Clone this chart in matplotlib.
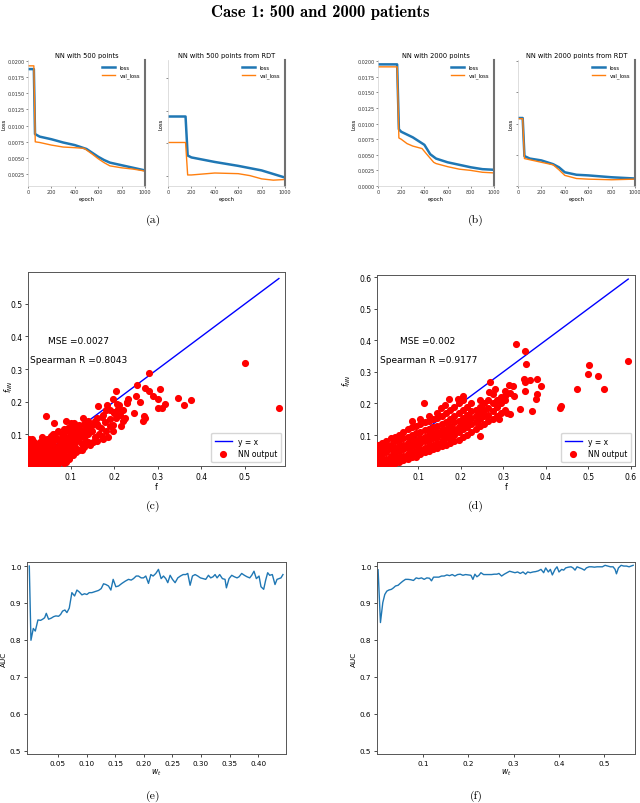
import numpy as np
import matplotlib
matplotlib.use('Agg')
import matplotlib.pyplot as plt
from matplotlib.ticker import FormatStrFormatter

# ---------------- loss histories ----------------
ep_loss_a1 = [0, 50, 60, 100, 200, 300, 400, 500, 550, 600, 650, 700, 800, 900, 1000]
loss_a1 = [0.0187, 0.0187, 0.0087, 0.0083, 0.0079, 0.0074, 0.0070, 0.0064, 0.0058, 0.0052, 0.0047, 0.0043, 0.0039, 0.0035, 0.0031]
ep_val_a1 = [0, 50, 62, 100, 200, 300, 400, 480, 550, 600, 650, 700, 800, 900, 1000]
val_a1 = [0.0192, 0.0192, 0.0075, 0.0074, 0.0070, 0.0067, 0.0066, 0.0065, 0.0056, 0.0049, 0.0043, 0.0038, 0.0035, 0.0033, 0.0030]

ep_loss_a2 = [0, 150, 168, 200, 400, 600, 800, 1000]
loss_a2 = [0.0141, 0.0141, 0.0081, 0.0078, 0.0071, 0.0065, 0.0058, 0.0047]
ep_val_a2 = [0, 150, 168, 200, 400, 600, 700, 800, 900, 1000]
val_a2 = [0.0101, 0.0101, 0.0051, 0.0051, 0.0054, 0.0053, 0.0050, 0.0045, 0.0043, 0.0044]

ep_loss_b1 = [0, 165, 180, 200, 300, 400, 450, 500, 600, 700, 800, 900, 1000]
loss_b1 = [0.0195, 0.0195, 0.0091, 0.0087, 0.0078, 0.0066, 0.0051, 0.0044, 0.0038, 0.0034, 0.0030, 0.0027, 0.0026]
ep_val_b1 = [0, 165, 180, 200, 250, 300, 380, 420, 480, 500, 600, 700, 800, 900, 1000]
val_b1 = [0.0191, 0.0191, 0.0077, 0.0075, 0.0068, 0.0064, 0.0060, 0.0051, 0.0038, 0.0036, 0.0031, 0.0027, 0.0025, 0.0022, 0.0021]

ep_loss_b2 = [0, 40, 55, 100, 200, 300, 350, 400, 500, 600, 800, 1000]
loss_b2 = [0.0109, 0.0109, 0.0048, 0.0044, 0.0041, 0.0035, 0.0030, 0.0022, 0.0018, 0.0017, 0.0014, 0.0012]
ep_val_b2 = [0, 40, 55, 200, 300, 350, 400, 500, 600, 800, 1000]
val_b2 = [0.0108, 0.0108, 0.0044, 0.0038, 0.0034, 0.0026, 0.0017, 0.0012, 0.0011, 0.0010, 0.0011]

# ---------------- NN output vs f ----------------
pts_500 = [
    (0.500, 0.318), (0.578, 0.181), (0.279, 0.288), (0.304, 0.238), (0.271, 0.242), (0.280, 0.233),
    (0.289, 0.217), (0.300, 0.207), (0.317, 0.191), (0.301, 0.181), (0.310, 0.181), (0.347, 0.210),
    (0.361, 0.189), (0.377, 0.206), (0.251, 0.217), (0.253, 0.250), (0.232, 0.207), (0.229, 0.196),
    (0.205, 0.231), (0.198, 0.207), (0.207, 0.191), (0.209, 0.178), (0.214, 0.160), (0.221, 0.139),
    (0.223, 0.145), (0.200, 0.167), (0.268, 0.155), (0.271, 0.150), (0.184, 0.188), (0.163, 0.186),
    (0.181, 0.173), (0.171, 0.153), (0.179, 0.136), (0.190, 0.145), (0.196, 0.129), (0.198, 0.108),
    (0.171, 0.093), (0.175, 0.084), (0.163, 0.124), (0.156, 0.139), (0.148, 0.129), (0.140, 0.124),
    (0.152, 0.077), (0.160, 0.080), (0.129, 0.150), (0.119, 0.129), (0.131, 0.113), (0.044, 0.157),
    (0.061, 0.134), (0.090, 0.139), (0.107, 0.134), (0.094, 0.119),
    (0.005, 0.085), (0.012, 0.085), (0.006, 0.060), (0.010, 0.045), (0.015, 0.055), (0.020, 0.040),
    (0.008, 0.030), (0.012, 0.020), (0.018, 0.025), (0.025, 0.030), (0.022, 0.012), (0.030, 0.020),
    (0.028, 0.050), (0.035, 0.040), (0.005, 0.012), (0.015, 0.008), (0.025, 0.065), (0.030, 0.075),
    (0.040, 0.060), (0.045, 0.030), (0.040, 0.015), (0.050, 0.020), (0.050, 0.045), (0.055, 0.070),
    (0.060, 0.050), (0.065, 0.035), (0.060, 0.012), (0.070, 0.025), (0.070, 0.060), (0.075, 0.080),
    (0.080, 0.045), (0.085, 0.065), (0.090, 0.085), (0.090, 0.030), (0.095, 0.050), (0.100, 0.070),
    (0.105, 0.090), (0.100, 0.100), (0.110, 0.060), (0.115, 0.080), (0.120, 0.100), (0.125, 0.070),
    (0.130, 0.090), (0.035, 0.090), (0.045, 0.085), (0.055, 0.095), (0.065, 0.100), (0.070, 0.110),
    (0.080, 0.100), (0.085, 0.115), (0.095, 0.120), (0.110, 0.125), (0.120, 0.120), (0.100, 0.135),
    (0.130, 0.130), (0.140, 0.100), (0.145, 0.120), (0.085, 0.010), (0.075, 0.015), (0.020, 0.070),
    (0.045, 0.075), (0.065, 0.085), (0.050, 0.055), (0.038, 0.025), (0.058, 0.030), (0.078, 0.035),
    (0.088, 0.055), (0.098, 0.040), (0.108, 0.075), (0.118, 0.050), (0.128, 0.110), (0.135, 0.080),
    (0.150, 0.110), (0.160, 0.130), (0.165, 0.100), (0.170, 0.120), (0.180, 0.110), (0.155, 0.090),
    (0.140, 0.140), (0.160, 0.150), (0.175, 0.160), (0.190, 0.175), (0.200, 0.165), (0.210, 0.190),
    (0.220, 0.175), (0.230, 0.200), (0.245, 0.165), (0.260, 0.200), (0.265, 0.140), (0.190, 0.125),
    (0.205, 0.150), (0.215, 0.125), (0.225, 0.150), (0.185, 0.090), (0.008, 0.005), (0.018, 0.004),
    (0.028, 0.006), (0.035, 0.005), (0.048, 0.008), (0.055, 0.004), (0.068, 0.006), (0.003, 0.035),
    (0.003, 0.020), (0.003, 0.070), (0.090, 0.015), (0.095, 0.025), (0.105, 0.035), (0.112, 0.045),
    (0.125, 0.050), (0.130, 0.060), (0.140, 0.075), (0.145, 0.065), (0.015, 0.035), (0.030, 0.035),
    (0.060, 0.075), (0.075, 0.055), (0.082, 0.075), (0.095, 0.090),
    (0.010, 0.070), (0.015, 0.075), (0.020, 0.055), (0.025, 0.045), (0.030, 0.060), (0.035, 0.065),
    (0.040, 0.045), (0.040, 0.080), (0.045, 0.050), (0.050, 0.065), (0.055, 0.040), (0.055, 0.085),
    (0.060, 0.065), (0.065, 0.050), (0.070, 0.045), (0.070, 0.085), (0.075, 0.070), (0.080, 0.060),
    (0.080, 0.085), (0.085, 0.045), (0.085, 0.095), (0.090, 0.070), (0.095, 0.065), (0.100, 0.055),
    (0.100, 0.085), (0.105, 0.070), (0.110, 0.095), (0.115, 0.110), (0.120, 0.085), (0.125, 0.100),
    (0.010, 0.015), (0.020, 0.020), (0.025, 0.008), (0.030, 0.010), (0.040, 0.030), (0.045, 0.020),
    (0.050, 0.030), (0.060, 0.025), (0.065, 0.015), (0.075, 0.030), (0.080, 0.020), (0.010, 0.060),
    (0.005, 0.045), (0.018, 0.048), (0.060, 0.100), (0.090, 0.110), (0.105, 0.110), (0.115, 0.095),
]

pts_2000 = [
    (0.329, 0.390), (0.352, 0.367), (0.354, 0.325), (0.594, 0.335), (0.502, 0.322), (0.500, 0.293),
    (0.524, 0.288), (0.536, 0.245), (0.474, 0.247), (0.437, 0.192), (0.433, 0.187), (0.390, 0.256),
    (0.380, 0.279), (0.380, 0.231), (0.377, 0.213), (0.368, 0.176), (0.340, 0.184), (0.350, 0.277),
    (0.352, 0.268), (0.363, 0.275), (0.351, 0.240), (0.313, 0.259), (0.322, 0.254), (0.317, 0.232),
    (0.325, 0.224), (0.305, 0.224), (0.310, 0.171), (0.317, 0.166), (0.289, 0.150), (0.281, 0.247),
    (0.269, 0.268), (0.267, 0.237), (0.245, 0.097), (0.114, 0.203), (0.154, 0.187), (0.172, 0.215),
    (0.162, 0.195), (0.206, 0.224), (0.194, 0.215),
    (0.005, 0.010), (0.005, 0.030), (0.005, 0.050), (0.005, 0.070),
    (0.015, 0.005), (0.015, 0.020), (0.015, 0.040), (0.015, 0.060), (0.015, 0.075),
    (0.025, 0.010), (0.025, 0.025), (0.025, 0.045), (0.025, 0.065), (0.025, 0.080),
    (0.035, 0.005), (0.035, 0.020), (0.035, 0.035), (0.035, 0.055), (0.035, 0.070), (0.035, 0.090),
    (0.045, 0.010), (0.045, 0.030), (0.045, 0.045), (0.045, 0.060), (0.045, 0.080), (0.045, 0.095),
    (0.055, 0.015), (0.055, 0.030), (0.055, 0.050), (0.055, 0.065), (0.055, 0.085), (0.055, 0.100),
    (0.065, 0.020), (0.065, 0.035), (0.065, 0.055), (0.065, 0.070), (0.065, 0.090), (0.065, 0.110),
    (0.075, 0.025), (0.075, 0.040), (0.075, 0.060), (0.075, 0.075), (0.075, 0.095), (0.075, 0.120),
    (0.085, 0.030), (0.085, 0.045), (0.085, 0.065), (0.085, 0.080), (0.085, 0.100), (0.085, 0.125), (0.085, 0.145),
    (0.095, 0.030), (0.095, 0.050), (0.095, 0.070), (0.095, 0.085), (0.095, 0.105), (0.095, 0.130),
    (0.105, 0.040), (0.105, 0.055), (0.105, 0.075), (0.105, 0.090), (0.105, 0.110), (0.105, 0.135), (0.105, 0.150),
    (0.115, 0.045), (0.115, 0.060), (0.115, 0.080), (0.115, 0.095), (0.115, 0.115), (0.115, 0.140),
    (0.125, 0.050), (0.125, 0.065), (0.125, 0.085), (0.125, 0.100), (0.125, 0.120), (0.125, 0.145), (0.125, 0.160),
    (0.135, 0.055), (0.135, 0.070), (0.135, 0.090), (0.135, 0.105), (0.135, 0.125), (0.135, 0.150),
    (0.145, 0.060), (0.145, 0.075), (0.145, 0.095), (0.145, 0.110), (0.145, 0.130), (0.145, 0.155), (0.145, 0.170),
    (0.155, 0.065), (0.155, 0.080), (0.155, 0.100), (0.155, 0.115), (0.155, 0.135), (0.155, 0.160),
    (0.165, 0.070), (0.165, 0.090), (0.165, 0.105), (0.165, 0.120), (0.165, 0.140), (0.165, 0.170),
    (0.175, 0.075), (0.175, 0.095), (0.175, 0.110), (0.175, 0.130), (0.175, 0.150), (0.175, 0.180),
    (0.185, 0.080), (0.185, 0.100), (0.185, 0.120), (0.185, 0.140), (0.185, 0.160), (0.185, 0.190),
    (0.195, 0.085), (0.195, 0.110), (0.195, 0.125), (0.195, 0.145), (0.195, 0.170), (0.195, 0.200),
    (0.205, 0.095), (0.205, 0.120), (0.205, 0.135), (0.205, 0.155), (0.205, 0.180), (0.205, 0.210),
    (0.215, 0.100), (0.215, 0.125), (0.215, 0.145), (0.215, 0.165), (0.215, 0.190),
    (0.225, 0.110), (0.225, 0.135), (0.225, 0.155), (0.225, 0.175), (0.225, 0.200),
    (0.235, 0.120), (0.235, 0.140), (0.235, 0.160), (0.235, 0.180),
    (0.245, 0.130), (0.245, 0.150), (0.245, 0.170), (0.245, 0.190), (0.245, 0.210),
    (0.255, 0.135), (0.255, 0.160), (0.255, 0.180), (0.255, 0.200),
    (0.265, 0.145), (0.265, 0.165), (0.265, 0.185), (0.265, 0.210),
    (0.275, 0.150), (0.275, 0.175), (0.275, 0.200), (0.275, 0.230),
    (0.285, 0.160), (0.285, 0.190), (0.285, 0.210),
    (0.295, 0.170), (0.295, 0.200), (0.295, 0.220),
    (0.305, 0.180), (0.305, 0.210), (0.305, 0.240),
]

# ---------------- AUC vs w_t ----------------
w_500 = [0.0, 0.0029, 0.0070, 0.0105, 0.0151, 0.0198, 0.0233, 0.0268, 0.0297, 0.0337,
         0.0384, 0.0425, 0.0465, 0.0512, 0.0547, 0.0581, 0.0622, 0.0657, 0.0698, 0.0744,
         0.0791, 0.0832, 0.0872, 0.0919, 0.0965, 0.1006, 0.1047, 0.1093, 0.1151, 0.1210,
         0.1256, 0.1297, 0.1338, 0.1384, 0.1425, 0.1465, 0.1512, 0.1559, 0.1617, 0.1675,
         0.1733, 0.1780, 0.1820, 0.1867, 0.1907, 0.1954, 0.1995, 0.2035, 0.2082, 0.2123,
         0.2163, 0.2210, 0.2256, 0.2303, 0.2344, 0.2384, 0.2419, 0.2460, 0.2501, 0.2547,
         0.2594, 0.2640, 0.2687, 0.2733, 0.2768, 0.2809, 0.2850, 0.2896, 0.2943, 0.2989,
         0.3036, 0.3082, 0.3129, 0.3169, 0.3210, 0.3245, 0.3280, 0.3326, 0.3373, 0.3419,
         0.3443, 0.3489, 0.3536, 0.3582, 0.3629, 0.3664, 0.3710, 0.3757, 0.3803, 0.3850,
         0.3885, 0.3925, 0.3966, 0.4013, 0.4047, 0.4094, 0.4129, 0.4164, 0.4199, 0.4245,
         0.4292, 0.4327, 0.4362, 0.4396, 0.4431]
auc_500 = [1.000, 0.799, 0.831, 0.824, 0.854, 0.853, 0.856, 0.860, 0.872, 0.856,
           0.859, 0.863, 0.865, 0.864, 0.869, 0.878, 0.881, 0.874, 0.886, 0.928,
           0.919, 0.935, 0.930, 0.922, 0.925, 0.923, 0.928, 0.928, 0.931, 0.934,
           0.939, 0.952, 0.950, 0.946, 0.935, 0.964, 0.944, 0.946, 0.953, 0.959,
           0.964, 0.962, 0.966, 0.973, 0.973, 0.968, 0.968, 0.973, 0.953, 0.977,
           0.973, 0.980, 0.991, 0.966, 0.973, 0.966, 0.955, 0.975, 0.964, 0.955,
           0.968, 0.973, 0.977, 0.977, 0.980, 0.948, 0.973, 0.977, 0.973, 0.968,
           0.966, 0.964, 0.975, 0.968, 0.971, 0.977, 0.968, 0.977, 0.966, 0.964,
           0.941, 0.966, 0.975, 0.971, 0.968, 0.971, 0.980, 0.975, 0.971, 0.968,
           0.975, 0.986, 0.966, 0.973, 0.944, 0.937, 0.962, 0.982, 0.975, 0.977,
           0.950, 0.964, 0.966, 0.968, 0.977]

w_2000 = [0.0004, 0.0056, 0.0108, 0.0152, 0.0196, 0.0240, 0.0299, 0.0344, 0.0388, 0.0447,
          0.0491, 0.0550, 0.0609, 0.0668, 0.0727, 0.0786, 0.0845, 0.0904, 0.0963, 0.1022,
          0.1081, 0.1140, 0.1184, 0.1229, 0.1288, 0.1347, 0.1406, 0.1465, 0.1524, 0.1583,
          0.1642, 0.1701, 0.1760, 0.1819, 0.1878, 0.1937, 0.1996, 0.2055, 0.2099, 0.2143,
          0.2187, 0.2232, 0.2276, 0.2335, 0.2394, 0.2453, 0.2512, 0.2571, 0.2630, 0.2674,
          0.2733, 0.2792, 0.2851, 0.2910, 0.2969, 0.3028, 0.3087, 0.3146, 0.3205, 0.3264,
          0.3308, 0.3367, 0.3426, 0.3485, 0.3544, 0.3603, 0.3662, 0.3707, 0.3765, 0.3810,
          0.3854, 0.3913, 0.3957, 0.4001, 0.4060, 0.4105, 0.4149, 0.4208, 0.4267, 0.4311,
          0.4355, 0.4400, 0.4459, 0.4503, 0.4562, 0.4606, 0.4665, 0.4724, 0.4783, 0.4842,
          0.4901, 0.4960, 0.5019, 0.5078, 0.5137, 0.5196, 0.5240, 0.5270, 0.5314, 0.5373,
          0.5432, 0.5491, 0.5550, 0.5594, 0.5639]
auc_2000 = [0.990, 0.847, 0.901, 0.923, 0.932, 0.935, 0.937, 0.941, 0.946, 0.948,
            0.953, 0.959, 0.964, 0.964, 0.963, 0.961, 0.968, 0.966, 0.968, 0.964,
            0.968, 0.967, 0.960, 0.970, 0.970, 0.970, 0.973, 0.973, 0.976, 0.974,
            0.977, 0.973, 0.977, 0.978, 0.975, 0.977, 0.976, 0.975, 0.964, 0.978,
            0.971, 0.975, 0.982, 0.977, 0.977, 0.977, 0.977, 0.978, 0.978, 0.980,
            0.973, 0.978, 0.982, 0.986, 0.984, 0.982, 0.984, 0.980, 0.984, 0.978,
            0.984, 0.982, 0.984, 0.985, 0.987, 0.991, 0.982, 0.995, 0.984, 0.991,
            0.976, 0.991, 0.998, 0.984, 0.991, 0.989, 0.995, 0.997, 0.998, 0.995,
            0.989, 0.998, 0.995, 0.993, 0.989, 0.995, 0.998, 0.998, 0.997, 0.998,
            0.998, 0.998, 1.002, 1.000, 0.998, 0.998, 0.991, 0.979, 0.995, 1.002,
            1.000, 1.000, 0.998, 1.000, 1.002]

W, H = 640, 804
fig = plt.figure(figsize=(W / 100, H / 100), dpi=100)


def rect(x0, y0, x1, y1):
    return [x0 / W, 1 - y1 / H, (x1 - x0) / W, (y1 - y0) / H]


def loss_panel(r, title, ep_l, l, ep_v, v, ylim, yticks, labels):
    ax = fig.add_axes(rect(*r))
    ax.plot(ep_l, l, color='#1f77b4', lw=1.8, label='loss')
    ax.plot(ep_v, v, color='#ff7f0e', lw=1.0, label='val_loss')
    ax.set_xlim(0, 1000)
    ax.set_ylim(*ylim)
    ax.set_xticks([0, 200, 400, 600, 800, 1000])
    ax.set_yticks(yticks)
    ax.yaxis.set_major_formatter(FormatStrFormatter('%.4f'))
    if not labels:
        ax.set_yticklabels([])
    ax.tick_params(labelsize=3.5, length=1.5, width=0.4, pad=1, colors='#333333')
    ax.set_title(title, fontsize=4.8, pad=2)
    ax.set_xlabel('epoch', fontsize=3.8, labelpad=1)
    ax.set_ylabel('Loss', fontsize=3.8, labelpad=1)
    for s in ['left', 'bottom']:
        ax.spines[s].set_color('#d0d0d0')
        ax.spines[s].set_linewidth(0.5)
    ax.spines['top'].set_visible(False)
    ax.spines['right'].set_color('#707070')
    ax.spines['right'].set_linewidth(1.5)
    ax.legend(fontsize=3.8, loc='upper right', frameon=False, handlelength=2.5)
    return ax


yt_a1 = [0.0025, 0.0050, 0.0075, 0.0100, 0.0125, 0.0150, 0.0175, 0.0200]
yt_b = [0.0, 0.0025, 0.0050, 0.0075, 0.0100, 0.0125, 0.0150, 0.0175, 0.0200]
loss_panel((28, 61, 145, 187), 'NN with 500 points', ep_loss_a1, loss_a1, ep_val_a1, val_a1,
           (0.0007, 0.0201), yt_a1, True)
loss_panel((168, 61, 285, 187), 'NN with 500 points from RDT', ep_loss_a2, loss_a2, ep_val_a2, val_a2,
           (0.0034, 0.0228), [0.005, 0.010, 0.015, 0.020], False)
loss_panel((378, 61, 494, 187), 'NN with 2000 points', ep_loss_b1, loss_b1, ep_val_b1, val_b1,
           (0.0, 0.0202), yt_b, True)
loss_panel((518, 61, 635, 187), 'NN with 2000 points from RDT', ep_loss_b2, loss_b2, ep_val_b2, val_b2,
           (0.0, 0.0202), [0.0, 0.005, 0.010, 0.015, 0.020], False)


def scatter_panel(r, pts, xlim, ylim, xt, yt, mse, rho, mse_pos, rho_pos, ylab_xy):
    ax = fig.add_axes(rect(*r))
    f = np.array([p[0] for p in pts])
    fnn = np.array([p[1] for p in pts])
    lo, hi = f.min(), f.max()
    ax.plot([lo, hi], [lo, hi], color='blue', lw=1.0, label='y = x')
    ax.scatter(f, fnn, s=17, color='red', label='NN output', zorder=3)
    ax.set_xlim(*xlim)
    ax.set_ylim(*ylim)
    ax.set_xticks(xt)
    ax.set_yticks(yt)
    ax.tick_params(labelsize=5.5, length=2.5, width=0.5, pad=1.5)
    ax.set_xlabel('f', fontsize=5.5, labelpad=1)
    ax.set_ylabel('$f_{NN}$', fontsize=5.5)
    ax.yaxis.set_label_coords(*ylab_xy)
    ax.text(mse_pos[0], mse_pos[1], 'MSE =' + mse, fontsize=6.5, va='center')
    ax.text(rho_pos[0], rho_pos[1], 'Spearman R =' + rho, fontsize=6.5, va='center')
    for s in ax.spines.values():
        s.set_color('#555555')
        s.set_linewidth(0.7)
    ax.legend(loc='lower right', fontsize=5.5, handlelength=2.2, borderpad=0.5, labelspacing=0.5,
              fancybox=True, framealpha=0.8)


scatter_panel((28, 273, 285, 467), pts_500, (0.002, 0.592), (0.002, 0.598),
              [0.1, 0.2, 0.3, 0.4, 0.5], [0.1, 0.2, 0.3, 0.4, 0.5],
              '0.0027', '0.8043', (0.049, 0.388), (0.007, 0.329), (-0.052, 0.415))
scatter_panel((377, 276, 635, 467), pts_2000, (0.003, 0.61), (0.002, 0.607),
              [0.1, 0.2, 0.3, 0.4, 0.5, 0.6], [0.1, 0.2, 0.3, 0.4, 0.5, 0.6],
              '0.002', '0.9177', (0.057, 0.399), (0.011, 0.338), (-0.092, 0.45))


def auc_panel(r, w, auc, xlim, xt, fmt):
    ax = fig.add_axes(rect(*r))
    ax.plot(w, auc, color='#1f77b4', lw=1.0)
    ax.set_xlim(*xlim)
    ax.set_ylim(0.491, 1.011)
    ax.set_xticks(xt)
    ax.xaxis.set_major_formatter(FormatStrFormatter(fmt))
    ax.set_yticks([0.5, 0.6, 0.7, 0.8, 0.9, 1.0])
    ax.tick_params(labelsize=5.2, length=2.5, width=0.5, pad=1.5)
    ax.set_xlabel('$w_t$', fontsize=5.5, labelpad=1)
    ax.set_ylabel('AUC', fontsize=5.2, labelpad=2)
    for s in ax.spines.values():
        s.set_color('#555555')
        s.set_linewidth(0.7)


auc_panel((27, 563, 286, 755), w_500, auc_500, (-0.004, 0.4484),
          [0.05, 0.10, 0.15, 0.20, 0.25, 0.30, 0.35, 0.40], '%.2f')
auc_panel((377, 563, 635, 755), w_2000, auc_2000, (-0.002, 0.568),
          [0.1, 0.2, 0.3, 0.4, 0.5], '%.1f')

fig.text(0.5, 1 - 12 / H, 'Case 1: 500 and 2000 patients', ha='center', va='center',
         family='cmb10', fontsize=12)
for lab, x, y in [('(a)', 153, 220), ('(b)', 476, 220), ('(c)', 153, 506),
                  ('(d)', 476, 506), ('(e)', 153, 796), ('(f)', 476, 796)]:
    fig.text(x / W, 1 - y / H, lab, ha='center', va='center', family='cmr10', fontsize=8.5)

fig.savefig('out.png', dpi=100)
